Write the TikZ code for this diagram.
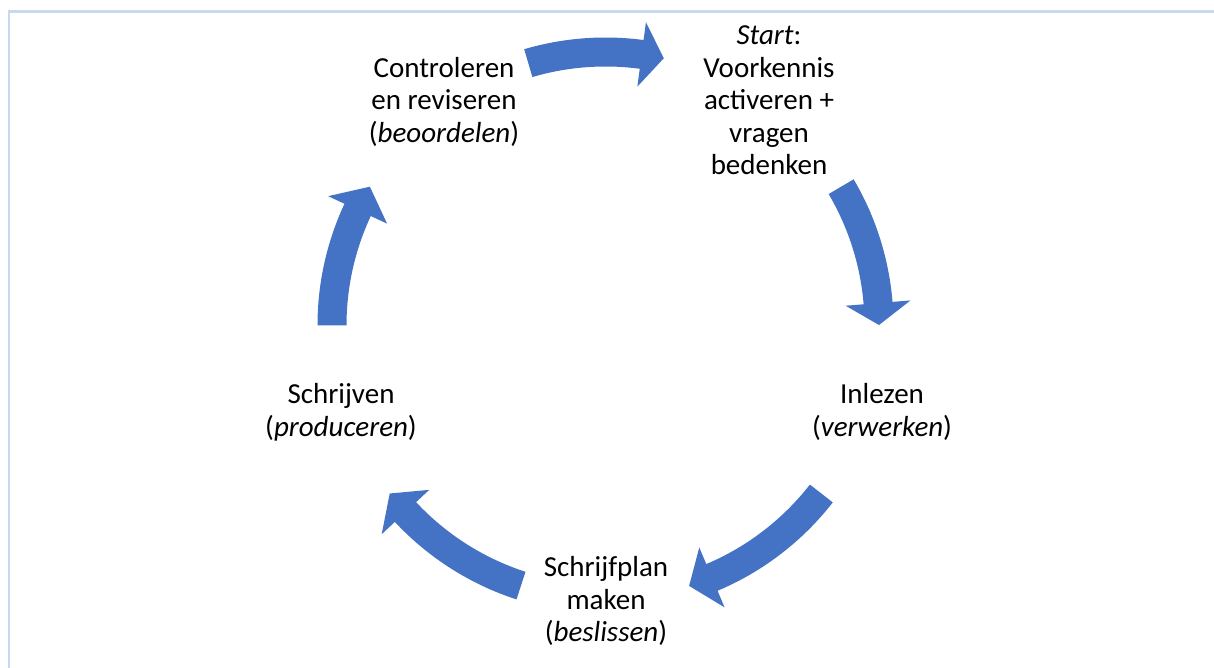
\documentclass[tikz,border=0pt]{standalone}
\usepackage{fontspec}
\setmainfont{Carlito}
\definecolor{arrowblue}{HTML}{4472C4}
\definecolor{framecol}{HTML}{C5D9EF}
\newcommand{\cyclearrow}[3]{% tail angle, head base angle, tip angle
  \fill[arrowblue] (#1:288pt) arc[start angle=#1, end angle=#2, radius=288pt]
    -- (#2:306pt) -- (#3:273.5pt) -- (#2:241pt) -- (#2:259pt)
    arc[start angle=#2, end angle=#1, radius=259pt] -- cycle;}
\begin{document}
\begin{tikzpicture}[x=1pt,y=1pt,
  lbl/.style={align=center, anchor=base, inner sep=0pt,
    font=\fontsize{29}{32.5}\selectfont}]
\useasboundingbox (0,0) rectangle (1214,668);
\fill[white] (0,0) rectangle (1214,668);
\draw[framecol, line width=2.2pt] (9,0) -- (9,656.5) -- (1214,656.5);
% labels (anchored at the baseline of the last line)
\node[lbl] (start) at (769,493) {\textit{Start}:\\Voorkennis\\activeren +\\vragen\\bedenken};
\node[lbl] (inlezen) at (882,231.5) {Inlezen\\(\textit{verwerken})};
\node[lbl] (plan) at (606,26) {Schrijfplan\\maken\\(\textit{beslissen})};
\node[lbl] (schrijven) at (341,231.5) {Schrijven\\(\textit{produceren})};
\node[lbl] (ctrl) at (444,525.5) {Controleren\\en reviseren\\(\textit{beoordelen})};
% cycle arrows
\begin{scope}[shift={(605.5,342.5)}]
  \cyclearrow{106.4}{82.4}{77.7}
  \cyclearrow{30.5}{4.7}{0.1}
  \cyclearrow{-37.9}{-67.1}{-72.2}
  \cyclearrow{-108}{-137}{-142.1}
  \cyclearrow{180}{155}{149.5}
\end{scope}
\end{tikzpicture}
\end{document}
